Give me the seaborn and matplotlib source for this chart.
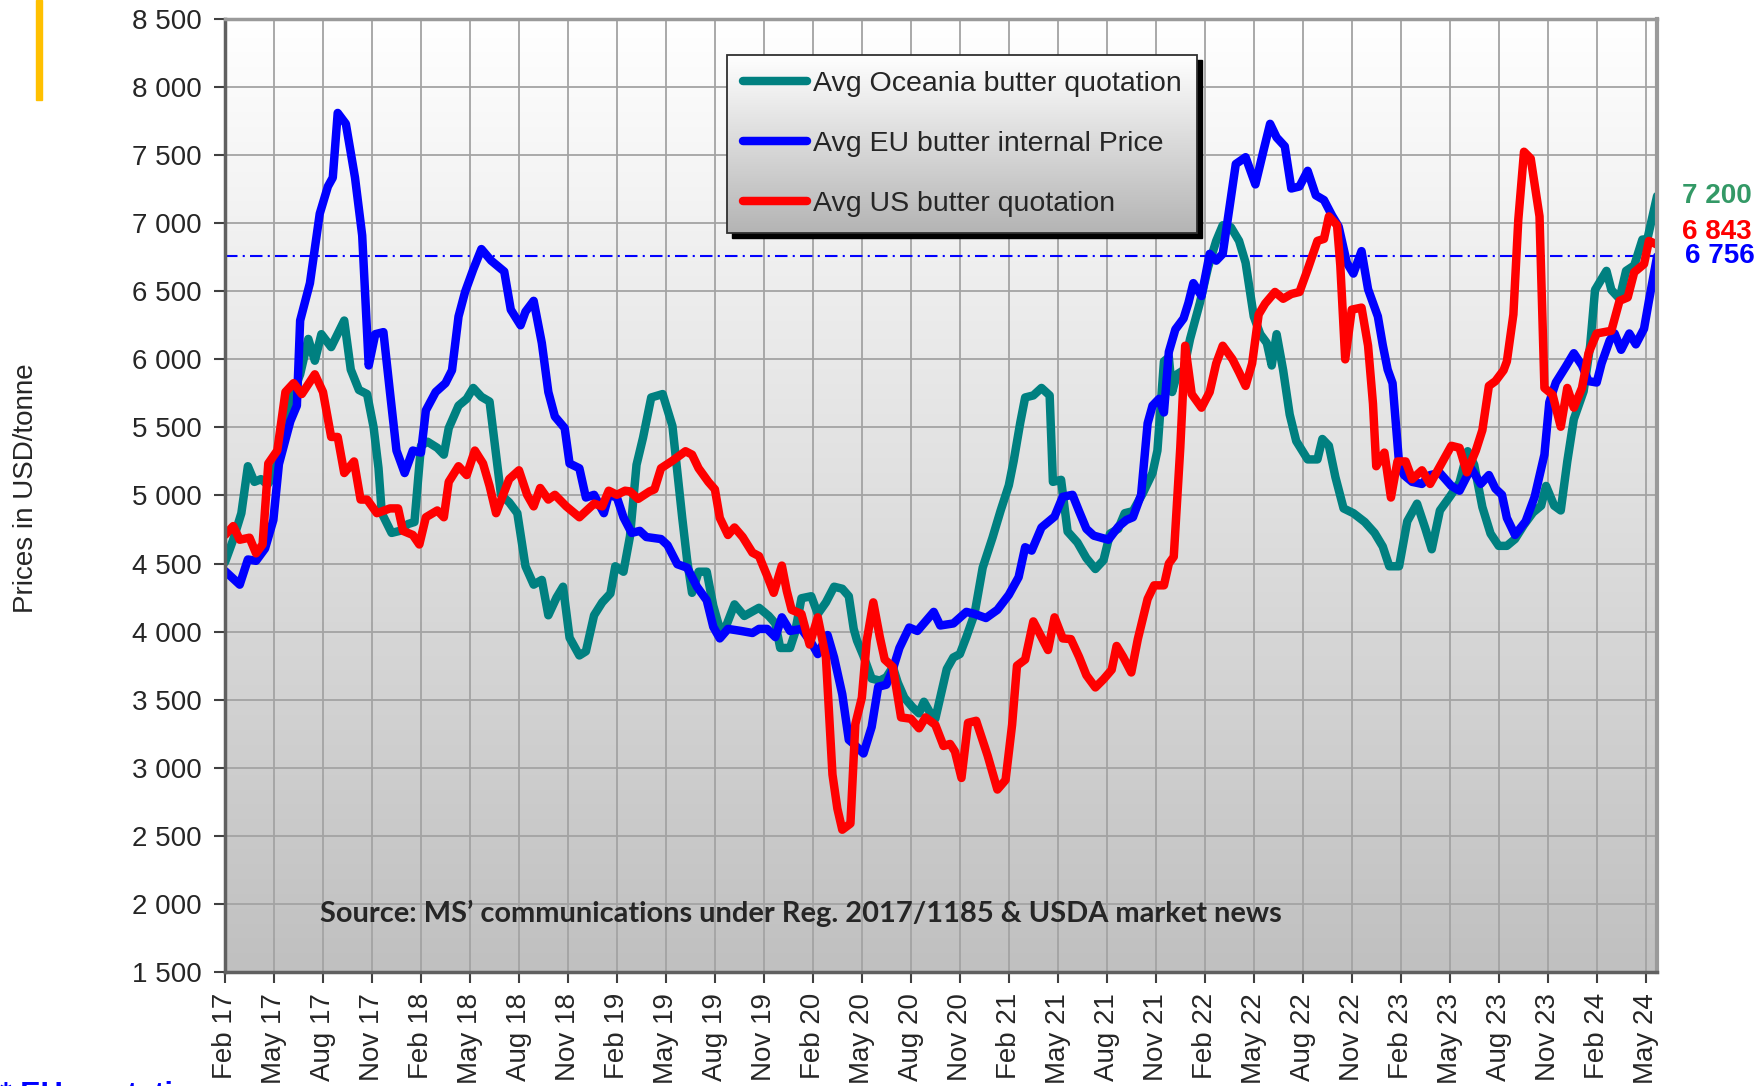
import numpy as np
import pandas as pd
import seaborn as sns
import matplotlib.pyplot as plt
from matplotlib.colors import LinearSegmentedColormap
from matplotlib.lines import Line2D
from matplotlib.patches import Rectangle

# (months since Feb 2017, USD/tonne)
oceania = [
    (0, 4510), (0.5, 4675), (1.0, 4870), (1.4, 5215), (1.8, 5100), (2.2, 5120), (2.6, 5080),
    (3.0, 5150), (3.5, 5400), (4.0, 5700), (4.6, 5890), (5.1, 6150), (5.5, 5990), (5.9, 6185),
    (6.5, 6090), (7.3, 6285), (7.7, 5925), (8.2, 5775), (8.7, 5745), (9.1, 5500), (9.4, 5200),
    (9.6, 4870), (10.2, 4725), (10.7, 4740), (11.2, 4790), (11.6, 4805), (12.0, 5365), (12.4, 5395),
    (13.0, 5350), (13.4, 5300), (13.7, 5495), (14.3, 5660), (14.8, 5710), (15.2, 5790), (15.7, 5725),
    (16.2, 5690), (16.5, 5395), (16.9, 5005), (17.4, 4950), (17.9, 4870), (18.4, 4480), (18.9, 4345),
    (19.4, 4380), (19.8, 4120), (20.3, 4250), (20.7, 4330), (21.1, 3955), (21.7, 3825), (22.1, 3855),
    (22.6, 4120), (23.1, 4215), (23.6, 4280), (23.9, 4480), (24.4, 4440), (24.8, 4700), (25.2, 5225),
    (25.6, 5425), (26.1, 5720), (26.8, 5745), (27.4, 5510), (27.7, 5170), (28.0, 4835), (28.3, 4525),
    (28.6, 4285), (29.0, 4440), (29.5, 4440), (29.9, 4190), (30.3, 4020), (30.7, 4045), (31.2, 4200),
    (31.8, 4115), (32.7, 4175), (33.3, 4115), (33.7, 4060), (34.0, 3880), (34.6, 3880), (34.9, 3990),
    (35.3, 4245), (35.9, 4260), (36.3, 4130), (36.8, 4215), (37.3, 4330), (37.8, 4315), (38.2, 4260),
    (38.5, 4020), (38.7, 3935), (39.1, 3820), (39.6, 3655), (40.1, 3640), (40.5, 3665), (40.9, 3740),
    (41.2, 3625), (41.6, 3515), (42.1, 3445), (42.5, 3400), (42.8, 3485), (43.2, 3400), (43.5, 3360),
    (43.8, 3515), (44.2, 3725), (44.6, 3810), (45.0, 3835), (45.4, 3960), (45.9, 4130), (46.4, 4470),
    (47.0, 4690), (47.5, 4890), (48.0, 5075), (48.3, 5255), (48.7, 5535), (49.0, 5720), (49.5, 5735),
    (50.0, 5790), (50.5, 5735), (50.7, 5100), (51.2, 5115), (51.6, 4735), (52.2, 4655), (52.75, 4540),
    (53.3, 4460), (53.8, 4525), (54.2, 4720), (54.7, 4755), (55.1, 4870), (55.6, 4885), (56.2, 5015),
    (56.8, 5165), (57.1, 5330), (57.5, 5985), (57.8, 6015), (58.0, 5760), (58.3, 5890), (58.7, 5920),
    (59.1, 6150), (59.7, 6415), (60.2, 6675), (60.7, 6870), (61.1, 6985), (61.6, 6970), (62.1, 6870),
    (62.5, 6710), (63.0, 6315), (63.4, 6185), (63.8, 6120), (64.1, 5955), (64.4, 6185), (64.8, 5920),
    (65.2, 5595), (65.6, 5400), (66.3, 5265), (66.9, 5265), (67.2, 5415), (67.6, 5365), (68.0, 5135),
    (68.5, 4905), (69.1, 4870), (69.8, 4805), (70.4, 4725), (70.9, 4625), (71.3, 4480), (71.9, 4480),
    (72.4, 4810), (73.0, 4940), (73.5, 4760), (73.9, 4605), (74.4, 4890), (75.0, 4990), (75.6, 5095),
    (76.1, 5325), (76.5, 5225), (77.0, 4915), (77.5, 4720), (78.0, 4630), (78.5, 4630), (79.0, 4680),
    (79.55, 4785), (80.1, 4875), (80.6, 4925), (80.9, 5070), (81.4, 4925), (81.8, 4890), (82.2, 5250),
    (82.6, 5560), (83.2, 5765), (83.6, 6100), (83.9, 6510), (84.6, 6650), (84.9, 6510), (85.4, 6445),
    (85.8, 6650), (86.3, 6690), (86.8, 6880), (87.1, 6880), (87.7, 7200),
]

eu = [
    (0, 4445), (0.9, 4345), (1.4, 4530), (1.9, 4520), (2.45, 4610), (2.96, 4820), (3.3, 5230),
    (3.6, 5365), (4.0, 5545), (4.4, 5660), (4.6, 6285), (5.2, 6560), (5.8, 7070), (6.3, 7270),
    (6.6, 7335), (6.9, 7810), (7.4, 7730), (7.96, 7335), (8.4, 6910), (8.8, 5955), (9.2, 6185),
    (9.7, 6200), (10.1, 5760), (10.5, 5330), (11.0, 5165), (11.5, 5330), (12.0, 5315), (12.3, 5625),
    (12.9, 5760), (13.5, 5825), (13.9, 5920), (14.3, 6315), (14.7, 6495), (15.2, 6660), (15.7, 6810),
    (16.3, 6725), (16.8, 6675), (17.1, 6645), (17.5, 6365), (18.1, 6250), (18.4, 6350), (18.9, 6430),
    (19.4, 6120), (19.8, 5760), (20.2, 5580), (20.8, 5495), (21.1, 5235), (21.7, 5200), (22.1, 4985),
    (22.6, 5005), (23.2, 4870), (23.5, 5005), (24.0, 4985), (24.4, 4840), (24.9, 4725), (25.4, 4740),
    (25.8, 4695), (26.7, 4680), (27.1, 4635), (27.7, 4495), (28.3, 4470), (28.9, 4330), (29.5, 4230),
    (29.9, 4035), (30.3, 3950), (30.8, 4020), (31.6, 4005), (32.3, 3990), (32.7, 4020), (33.2, 4020),
    (33.7, 3960), (34.1, 4105), (34.6, 4005), (35.3, 4020), (35.9, 3920), (36.3, 3835), (36.9, 3975),
    (37.3, 3810), (37.8, 3540), (38.2, 3205), (38.5, 3175), (39.1, 3105), (39.6, 3300), (40.0, 3595),
    (40.5, 3610), (40.9, 3725), (41.3, 3880), (41.9, 4030), (42.4, 4005), (42.9, 4075), (43.4, 4145),
    (43.8, 4045), (44.6, 4060), (45.4, 4145), (45.9, 4130), (46.6, 4100), (47.3, 4160), (48.0, 4270),
    (48.6, 4400), (49.0, 4620), (49.4, 4595), (50.0, 4765), (50.8, 4845), (51.3, 4990), (51.9, 5005),
    (52.3, 4885), (52.75, 4755), (53.2, 4705), (54.1, 4675), (54.7, 4770), (55.2, 4820), (55.6, 4840),
    (56.1, 5005), (56.5, 5530), (56.8, 5660), (57.2, 5710), (57.5, 5610), (57.8, 6055), (58.2, 6220),
    (58.7, 6300), (59.0, 6415), (59.3, 6560), (59.8, 6465), (60.3, 6775), (60.7, 6725), (61.1, 6775),
    (61.5, 7105), (61.9, 7435), (62.5, 7485), (63.1, 7285), (63.6, 7535), (64.0, 7730), (64.4, 7630),
    (64.9, 7565), (65.3, 7255), (65.8, 7270), (66.3, 7385), (66.8, 7205), (67.3, 7170), (67.8, 7055),
    (68.2, 6975), (68.7, 6710), (69.1, 6630), (69.6, 6795), (70.0, 6515), (70.6, 6315), (70.9, 6105),
    (71.2, 5925), (71.5, 5825), (71.9, 5235), (72.2, 5150), (72.7, 5100), (73.3, 5085), (73.8, 5150),
    (74.4, 5165), (75.1, 5070), (75.6, 5035), (76.3, 5200), (76.9, 5085), (77.4, 5150), (77.8, 5050),
    (78.2, 5005), (78.5, 4835), (79.0, 4710), (79.65, 4810), (80.2, 4990), (80.8, 5300), (81.1, 5685),
    (81.5, 5830), (82.1, 5945), (82.6, 6045), (83.1, 5955), (83.5, 5840), (84.0, 5830), (84.3, 5970),
    (84.8, 6140), (85.1, 6190), (85.5, 6070), (86.0, 6190), (86.4, 6110), (86.9, 6225), (87.2, 6430),
    (87.7, 6756),
]

us = [
    (0, 4710), (0.5, 4775), (0.9, 4675), (1.5, 4690), (1.9, 4575), (2.3, 4640), (2.65, 5235),
    (3.2, 5330), (3.7, 5760), (4.2, 5825), (4.7, 5745), (5.5, 5890), (6.0, 5760), (6.5, 5430),
    (6.9, 5430), (7.3, 5165), (7.9, 5250), (8.3, 4970), (8.7, 4970), (9.3, 4870), (10.1, 4905),
    (10.6, 4905), (10.9, 4740), (11.5, 4710), (11.9, 4640), (12.3, 4840), (13.0, 4890), (13.4, 4840),
    (13.7, 5100), (14.3, 5215), (14.8, 5150), (15.3, 5330), (15.8, 5235), (16.2, 5070), (16.6, 4870),
    (17.4, 5120), (18.0, 5185), (18.5, 5005), (18.9, 4920), (19.3, 5055), (19.8, 4970), (20.2, 5005),
    (20.9, 4920), (21.7, 4840), (22.6, 4940), (23.1, 4920), (23.5, 5035), (24.0, 5005), (24.5, 5035),
    (24.8, 5030), (25.3, 4975), (26.0, 5030), (26.3, 5045), (26.7, 5200), (27.4, 5255), (28.2, 5325),
    (28.6, 5300), (29.0, 5200), (29.6, 5100), (30.0, 5045), (30.3, 4835), (30.8, 4710), (31.2, 4765),
    (31.7, 4695), (32.3, 4580), (32.7, 4555), (33.2, 4410), (33.6, 4285), (34.1, 4485), (34.4, 4300),
    (34.7, 4160), (35.3, 4130), (35.8, 3905), (36.3, 4105), (36.8, 3810), (37.2, 2950), (37.5, 2700),
    (37.8, 2545), (38.3, 2590), (38.6, 3320), (39.0, 3515), (39.3, 3935), (39.7, 4215), (40.1, 3960),
    (40.4, 3795), (40.9, 3740), (41.4, 3370), (42.0, 3360), (42.5, 3290), (42.9, 3370), (43.5, 3315),
    (44.0, 3160), (44.4, 3175), (44.7, 3120), (45.1, 2925), (45.5, 3330), (46.0, 3345), (46.7, 3090),
    (47.3, 2840), (47.8, 2910), (48.2, 3315), (48.5, 3750), (49.0, 3795), (49.5, 4075), (50.0, 3960),
    (50.4, 3865), (50.8, 4105), (51.3, 3950), (51.8, 3945), (52.3, 3815), (52.75, 3680), (53.3, 3590),
    (53.8, 3650), (54.3, 3720), (54.6, 3895), (55.0, 3815), (55.5, 3700), (55.9, 3945), (56.5, 4240),
    (56.9, 4340), (57.5, 4340), (57.8, 4500), (58.1, 4550), (58.5, 5350), (58.8, 6100), (59.2, 5745),
    (59.8, 5645), (60.3, 5760), (60.7, 5970), (61.1, 6100), (61.7, 6000), (62.1, 5905), (62.5, 5805),
    (62.9, 5970), (63.3, 6330), (63.7, 6410), (64.3, 6495), (64.8, 6445), (65.3, 6480), (65.8, 6495),
    (66.3, 6660), (66.9, 6870), (67.3, 6885), (67.6, 7050), (68.1, 6985), (68.3, 6690), (68.6, 6000),
    (69.0, 6365), (69.6, 6380), (70.0, 6100), (70.3, 5675), (70.5, 5215), (71.0, 5315), (71.4, 4985),
    (71.8, 5250), (72.3, 5250), (72.7, 5120), (73.3, 5185), (73.8, 5085), (74.5, 5235), (75.1, 5365),
    (75.6, 5350), (76.05, 5170), (76.6, 5330), (77.0, 5480), (77.4, 5805), (77.8, 5840), (78.3, 5920),
    (78.5, 5985), (78.9, 6330), (79.2, 7025), (79.55, 7525), (79.96, 7475), (80.5, 7050), (80.8, 5790),
    (81.3, 5740), (81.8, 5505), (82.2, 5790), (82.6, 5645), (83.1, 5790), (83.5, 6045), (84.0, 6190),
    (84.9, 6210), (85.4, 6430), (85.9, 6455), (86.3, 6640), (86.9, 6700), (87.2, 6870), (87.7, 6843),
]

series_names = ['Avg Oceania butter quotation', 'Avg EU butter internal Price', 'Avg US butter quotation']
series_colors = ['#008080', '#0000FF', '#FF0000']
label_colors = ['#339966', '#0000FF', '#FF0000']

tick_labels = ['Feb 17', 'May 17', 'Aug 17', 'Nov 17', 'Feb 18', 'May 18', 'Aug 18', 'Nov 18',
               'Feb 19', 'May 19', 'Aug 19', 'Nov 19', 'Feb 20', 'May 20', 'Aug 20', 'Nov 20',
               'Feb 21', 'May 21', 'Aug 21', 'Nov 21', 'Feb 22', 'May 22', 'Aug 22', 'Nov 22',
               'Feb 23', 'May 23', 'Aug 23', 'Nov 23', 'Feb 24', 'May 24']

frames = []
for name, pts in zip(series_names, [oceania, eu, us]):
    d = pd.DataFrame(pts, columns=['month', 'price'])
    d['series'] = name
    frames.append(d)
df = pd.concat(frames, ignore_index=True)

sns.set_style('white')
plt.rcParams['font.family'] = ['Liberation Sans', 'DejaVu Sans']

fig = plt.figure(figsize=(17.58, 10.86), dpi=100)
ax = fig.add_axes([0.128, 0.105, 0.8146, 0.8775])

# gradient background
bg = LinearSegmentedColormap.from_list('bg', ['#c0c0c0', '#ffffff'])
ax.imshow(np.linspace(1, 0, 256).reshape(-1, 1), extent=[0, 1, 0, 1], transform=ax.transAxes,
          aspect='auto', cmap=bg, origin='upper', zorder=0)

LW = 6.1
sns.lineplot(data=df, x='month', y='price', hue='series', palette=dict(zip(series_names, series_colors)),
             hue_order=series_names, estimator=None, sort=False, linewidth=LW, legend=False, ax=ax,
             solid_joinstyle='round', solid_capstyle='round', zorder=2)

ax.axhline(eu[-1][1], color='#0000FF', lw=1.5, ls=(0, (6, 2.5, 1, 2.5)), zorder=1.5)

ax.set_xlim(0, oceania[-1][0])
ax.set_ylim(1500, 8500)
ax.set_xticks(np.arange(len(tick_labels)) * 3)
ax.set_xticklabels(tick_labels, rotation=90, fontsize=20)
yt = np.arange(1500, 8501, 500)
ax.set_yticks(yt)
ax.set_yticklabels([f'{v:,}'.replace(',', ' ') for v in yt], fontsize=20)
ax.tick_params(axis='both', direction='out', length=8, width=1.5, color='#404040', left=True, bottom=True)
ax.tick_params(axis='y', pad=9)
ax.tick_params(axis='x', pad=7)
ax.set_axisbelow(True)
ax.grid(True, color='#a3a3a3', lw=1.3)
ax.set_xlabel('')
ax.set_ylabel('')
for side, col, lw in [('left', '#606060', 2.5), ('bottom', '#606060', 2.5), ('top', '#9a9a9a', 2.5), ('right', '#9a9a9a', 3)]:
    ax.spines[side].set_color(col)
    ax.spines[side].set_linewidth(lw)
    ax.spines[side].set_visible(True)

fig.text(26 / 1758, 1 - 488 / 1086, 'Prices in USD/tonne', rotation=90, ha='center', va='center', fontsize=20)

ax.text(0.066, 0.061, 'Source: MS\u2019 communications under Reg. 2017/1185 & USDA market news',
        transform=ax.transAxes, fontsize=20.9, fontweight='bold', family=['Lato', 'DejaVu Sans'],
        va='center', ha='left', zorder=3)

# end values
offsets = [(18, 0), (20, 0), (18, 9)]
for pts, col, off in zip([oceania, eu, us], label_colors, offsets):
    v = pts[-1][1]
    ax.annotate(f'{v:,}'.replace(',', ' '), xy=(1, v), xycoords=('axes fraction', 'data'),
                xytext=off, textcoords='offset points', color=col, fontsize=20,
                fontweight='bold', va='center', ha='left', annotation_clip=False)

# legend with shaded box
handles = [Line2D([0], [0], color=c, lw=LW, solid_capstyle='round') for c in series_colors]
leg = ax.legend(handles, series_names, loc='upper left', bbox_to_anchor=(0.3506, 0.962), fontsize=20.5,
                frameon=True, fancybox=False, edgecolor='#303030', facecolor='none', framealpha=1,
                handlelength=2.25, handletextpad=0.2, borderpad=0.55, labelspacing=1.2, borderaxespad=0)
leg.get_frame().set_linewidth(1.3)
leg.set_zorder(7)
fig.canvas.draw()
bb = leg.get_frame().get_window_extent().transformed(ax.transAxes.inverted())
ax.add_patch(Rectangle((bb.x0 + 5 / 1432, bb.y0 - 5 / 953), bb.width, bb.height, transform=ax.transAxes,
                       color='black', zorder=5))
lg = LinearSegmentedColormap.from_list('lg', ['#b4b4b4', '#ffffff'])
ax.imshow(np.linspace(1, 0, 256).reshape(-1, 1), extent=[bb.x0, bb.x1, bb.y0, bb.y1], transform=ax.transAxes,
          aspect='auto', cmap=lg, origin='upper', zorder=6)
ax.set_xlim(0, oceania[-1][0])
ax.set_ylim(1500, 8500)

fig.add_artist(Rectangle((36 / 1758, 1 - 100 / 1086), 6 / 1758, 100 / 1086, transform=fig.transFigure,
                         color='#FFC000'))
fig.text(0.0, -0.0165, '* EU quotation', color='#0000FF', fontsize=22, fontweight='bold', va='baseline')

fig.savefig('out.png', dpi=100)
